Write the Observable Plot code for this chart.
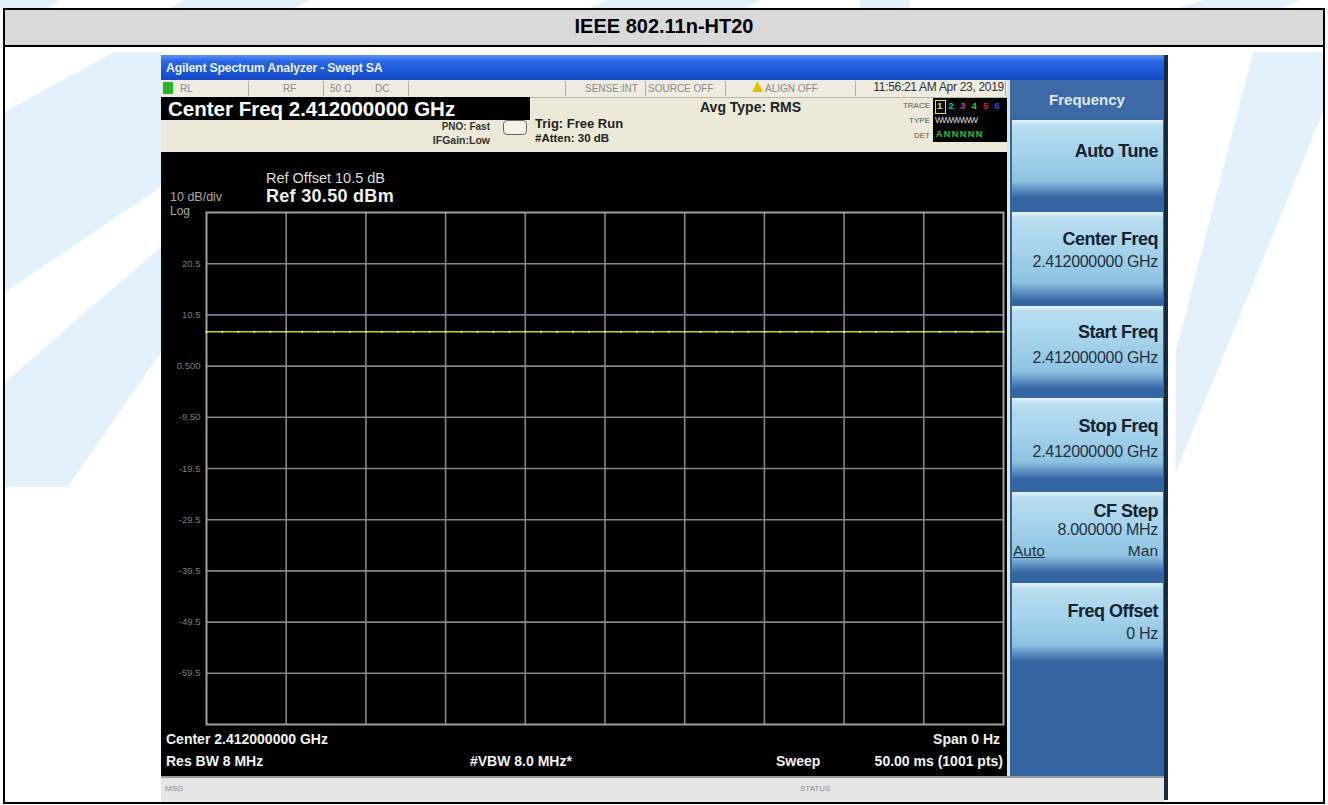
<!DOCTYPE html>
<html><head><meta charset="utf-8">
<script src="https://cdn.jsdelivr.net/npm/d3@7"></script>
<script src="https://cdn.jsdelivr.net/npm/@observablehq/plot@0.6"></script>
<style>
html,body{margin:0;padding:0;background:#fff;width:1328px;height:805px;overflow:hidden;font-family:"Liberation Sans",Arial,sans-serif;}
.a{position:absolute;white-space:nowrap;}
.key{position:absolute;left:1012px;width:151px;background:linear-gradient(to bottom,#e6f4fb 0%,#b9def0 7%,#a3d2ea 45%,#8cc3e2 80%,#5689be 93%,#3a6da8 100%);}
</style></head>
<body>
<div id="root"></div>
<script>
// ---------- data ----------
const timeMs = [0,1,2,3,4,5,6,7,8,9,10,11,12,13,14,15,16,17,18,19,20,21,22,23,24,25,26,27,28,29,30,31,32,33,34,35,36,37,38,39,40,41,42,43,44,45,46,47,48,49,50];
const traceDbm = [7.2,7.2,7.2,7.2,7.2,7.2,7.2,7.2,7.2,7.2,7.2,7.2,7.2,7.2,7.2,7.2,7.2,7.2,7.2,7.2,7.2,7.2,7.2,7.2,7.2,7.2,7.2,7.2,7.2,7.2,7.2,7.2,7.2,7.2,7.2,7.2,7.2,7.2,7.2,7.2,7.2,7.2,7.2,7.2,7.2,7.2,7.2,7.2,7.2,7.2,7.2];
const gridTimes = [5,10,15,20,25,30,35,40,45];
const yTickValues = [20.5,10.5,0.5,-9.5,-19.5,-29.5,-39.5,-49.5,-59.5];
const yTickLabels = ["20.5","10.5","0.500","-9.50","-19.5","-29.5","-39.5","-49.5","-59.5"];
const yDomain = [-69.5, 30.5];
const xDomain = [0, 50];
const displayLineDbm = 10.5;
const softkeyLabels = ["Auto Tune","Center Freq","Start Freq","Stop Freq","CF Step","Freq Offset"];
const softkeyValues = ["","2.412000000 GHz","2.412000000 GHz","2.412000000 GHz","8.000000 MHz","0 Hz"];

const body = document.body;
function box(x,y,w,h,css){const d=document.createElement("div");d.className="a";d.style.cssText+=`left:${x}px;top:${y}px;width:${w}px;height:${h}px;`+(css||"");body.appendChild(d);return d;}
function txt(s,x,y,size,css,align){const d=document.createElement("div");d.className="a";d.textContent=s;
  let st=`top:${y-size*0.55}px;font-size:${size}px;line-height:${size*1.1}px;`;
  if(align==="right") st+=`left:${x-600}px;width:600px;text-align:right;`;
  else if(align==="center") st+=`left:${x-300}px;width:600px;text-align:center;`;
  else st+=`left:${x}px;`;
  d.style.cssText+=st+(css||"");body.appendChild(d);return d;}

// ---------- watermark ----------
const wmc="#e2f1fb";
box(0,0,60,8,`background:${wmc};clip-path:polygon(0 0,100% 0,80% 100%,0 100%);`);
box(170,0,140,8,`background:${wmc};clip-path:polygon(10% 0,100% 0,90% 100%,0 100%);`);
box(590,0,170,8,`background:${wmc};clip-path:polygon(10% 0,100% 0,92% 100%,0 100%);`);
box(860,0,50,8,`background:${wmc};`);
box(1180,0,120,8,`background:${wmc};clip-path:polygon(20% 0,100% 0,85% 100%,0 100%);`);
box(5,52,156,750,`background:${wmc};clip-path:polygon(70% 0,100% 0,100% 18%,0 32%,0 8%);`);
box(5,52,156,750,`background:${wmc};clip-path:polygon(100% 26%,100% 40%,40% 58%,0 58%,0 44%);`);
box(1168,52,155,750,`background:${wmc};clip-path:polygon(55% 0,100% 0,100% 8%,5% 56%,5% 40%);`);

// ---------- outer table ----------
box(3,8,1322,2,"background:#000;");
box(3,8,2,796,"background:#000;");
box(1323,8,2,796,"background:#000;");
box(3,802,1322,2,"background:#000;");
box(5,10,1318,35,"background:#d9d9d9;");
box(3,45,1322,2,"background:#000;");
txt("IEEE 802.11n-HT20",664,26,20,"font-weight:bold;color:#000;","center");

// ---------- analyzer frame ----------
box(161,55,1007,25,"background:linear-gradient(to bottom,#5d93f2 0%,#2a66e4 25%,#1b55d6 70%,#1648c0 100%);");
txt("Agilent Spectrum Analyzer - Swept SA",166,69,12.3,"color:#fff;font-weight:bold;opacity:.9;letter-spacing:-0.2px;");
box(161,80,846,72,"background:#ece9d8;");
box(161,80,846,17,"background:#eeebe0;border-bottom:1px solid #b9b5a5;");
box(163,82,10,12,"background:#28b428;");
[248,323,408,565,645,725,855,1005].forEach(v=>box(v,81,1,15,"background:#b0ab9a;"));
const sCss="color:#8a8a86;";
txt("RL",180,88,10,sCss); txt("RF",283,88,10,sCss); txt("50 Ω",330,88,10,sCss); txt("DC",375,88,10,sCss);
txt("SENSE:INT",585,88,10,sCss); txt("SOURCE OFF",648,88,10,sCss);
box(752,81,11,11,"background:#e0c000;clip-path:polygon(50% 0,100% 100%,0 100%);");
txt("ALIGN OFF",765,88,10,sCss);
txt("11:56:21 AM Apr 23, 2019",1004,88,12,"color:#333;letter-spacing:-0.3px;","right");
box(161,97,369,23,"background:#000;");
txt("Center Freq 2.412000000 GHz",168,109,20.5,"color:#fff;font-weight:bold;");
txt("PNO: Fast",490,126,10,"color:#333;font-weight:bold;","right");
txt("IFGain:Low",490,141,10.5,"color:#333;font-weight:bold;","right");
box(503,120,22,13,"border:1px solid #666;border-radius:4px;background:#f4f2e8;");
txt("Trig: Free Run",535,124,13,"color:#222;font-weight:bold;");
txt("#Atten: 30 dB",535,138,11.5,"color:#222;font-weight:bold;");
txt("Avg Type: RMS",700,108,14,"color:#222;font-weight:bold;");
txt("TRACE",930,106,8,"color:#555;","right");
txt("TYPE",930,121,8,"color:#555;","right");
txt("DET",930,136,8,"color:#555;","right");
box(933,98,74,44,"background:#000;");
const tc=["#e8e800","#00c8c8","#c040c0","#40c040","#d02020","#4040e0"];
tc.forEach((c,i)=>{txt(String(i+1),937+i*11.5,106,9.5,`color:${c};font-weight:bold;`);});
box(935,100,9,12,"border:1px solid #e8e800;");
txt("WWWWWW",935,121,8.5,"color:#ddd;letter-spacing:-1px;");
txt("A N N N N N",936,135,9,"color:#30c030;font-weight:bold;letter-spacing:-0.5px;");

// ---------- right softkey panel ----------
box(1007,80,161,696,"background:#3366a2;");
box(1007,80,3,696,"background:#cfe6f4;");
box(1164,55,4,745,"background:#1a2a3e;");
box(1010,80,154,39,"background:#3d6aa6;");
txt("Frequency",1087,100,15,"color:#dfe8f2;font-weight:bold;","center");
const keyTops=[120,212,306,398,492,583], keyH=[76,88,82,80,80,77];
keyTops.forEach((t,i)=>box(1012,t,151,keyH[i],"").className="key");
txt(softkeyLabels[0],1158,152,18,"color:#16222f;font-weight:bold;letter-spacing:-0.5px;","right");
const lblY=[0,240,333,427,512,612], valY=[0,262,358,452,530,634];
for(let i=1;i<6;i++){
  txt(softkeyLabels[i],1158,lblY[i],18,"color:#16222f;font-weight:bold;letter-spacing:-0.5px;","right");
  txt(softkeyValues[i],1158,valY[i],16,"color:#26303c;letter-spacing:-0.3px;","right");
}
txt("Auto",1013,551,15.5,"color:#26303c;text-decoration:underline;");
txt("Man",1158,551,15.5,"color:#26303c;","right");

// ---------- status bar ----------
box(161,776,1003,24,"background:#e6e6e6;border-top:2px solid #9a9a9a;");
txt("MSG",165,789,8,"color:#888;");
txt("STATUS",800,789,8,"color:#888;");

// ---------- display (Observable Plot) ----------
const trace = timeMs.map((t,i)=>({t, v: traceDbm[i]}));
const labelMap = new Map(yTickValues.map((v,i)=>[v,yTickLabels[i]]));
const chart = Plot.plot({
  width: 846, height: 624,
  marginLeft: 45, marginRight: 4, marginTop: 60, marginBottom: 52,
  style: {background: "#000", color: "#8a8a8a", fontFamily: "Liberation Sans, Arial, sans-serif", fontSize: "9px"},
  x: {domain: xDomain, axis: null},
  y: {domain: yDomain, axis: null},
  marks: [
    Plot.ruleX(gridTimes, {stroke: "#858585", strokeWidth: 1.6}),
    Plot.ruleY(yTickValues.filter(v => v !== displayLineDbm), {stroke: "#858585", strokeWidth: 1.6}),
    Plot.ruleY([displayLineDbm], {stroke: "#7b7ba6", strokeWidth: 1.6}),
    Plot.frame({stroke: "#a0a0a0", strokeWidth: 2}),
    Plot.axisY(yTickValues, {anchor: "left", tickSize: 0, tickPadding: 6, label: null, color: "#7c7c7c", fontSize: 9.5, tickFormat: d => labelMap.get(d)}),
    Plot.line(trace, {x: "t", y: "v", stroke: "#c8ce38", strokeWidth: 1.5}),
    Plot.dot(trace, {x: "t", y: "v", r: 1.1, fill: "#f2f27a", stroke: "none"})
  ]
});
chart.style.position = "absolute";
chart.style.left = "161px";
chart.style.top = "152px";
body.appendChild(chart);

// display annotations
txt("Ref Offset 10.5 dB",266,179,14.5,"color:#ddd;z-index:2;");
txt("Ref 30.50 dBm",266,197,18,"color:#eee;font-weight:bold;z-index:2;letter-spacing:0.3px;");
txt("10 dB/div",170,198,12.5,"color:#a8a8a8;z-index:2;");
txt("Log",170,212,12,"color:#a8a8a8;z-index:2;");
txt("Center 2.412000000 GHz",166,740,14,"color:#f2f2f2;font-weight:bold;z-index:2;");
txt("Res BW 8 MHz",166,762,14,"color:#f2f2f2;font-weight:bold;z-index:2;");
txt("#VBW 8.0 MHz*",470,762,14,"color:#f2f2f2;font-weight:bold;z-index:2;");
txt("Span 0 Hz",1000,740,14,"color:#f2f2f2;font-weight:bold;z-index:2;","right");
txt("Sweep",776,762,14,"color:#f2f2f2;font-weight:bold;z-index:2;");
txt("50.00 ms (1001 pts)",1003,762,14,"color:#f2f2f2;font-weight:bold;z-index:2;","right");
</script>
</body></html>
